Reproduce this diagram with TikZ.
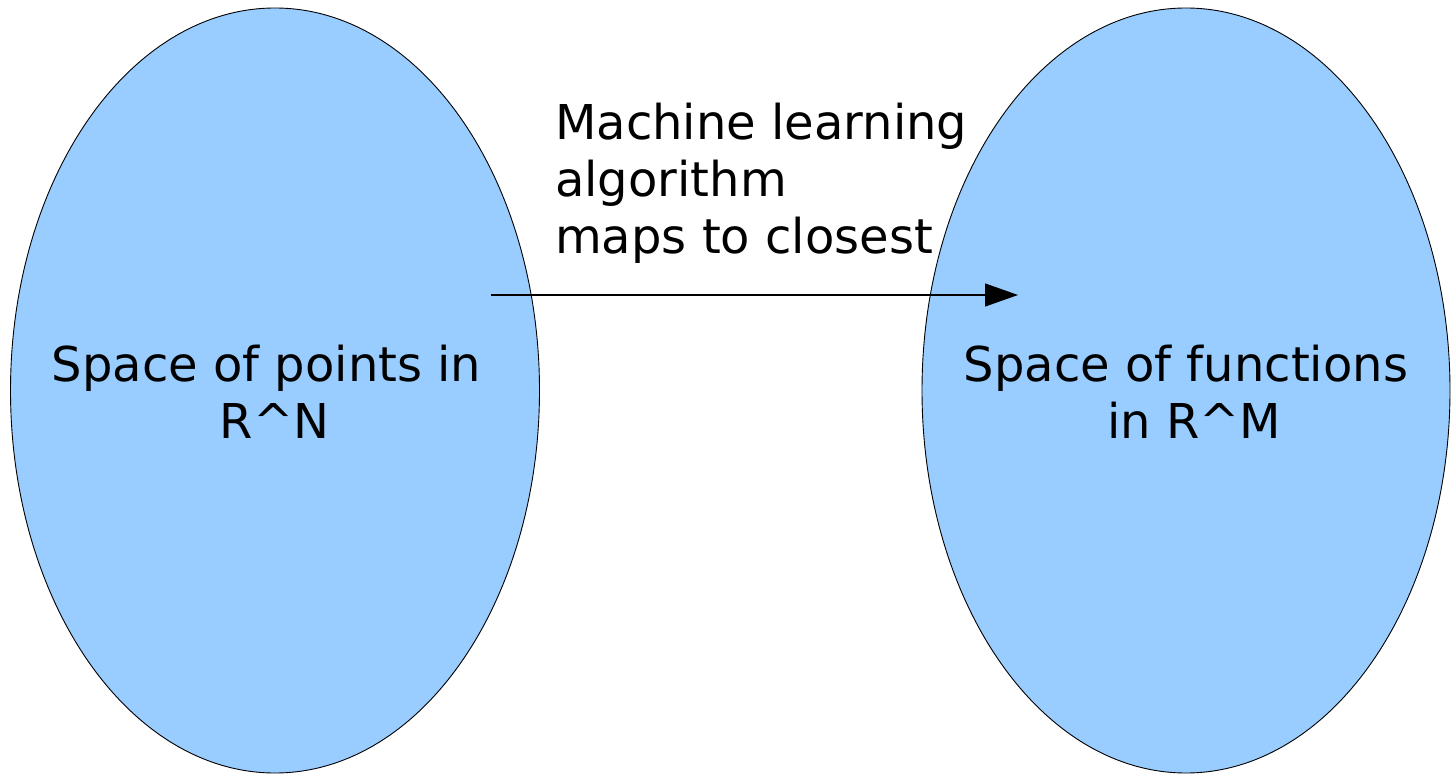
\documentclass[tikz,border=0pt]{standalone}
\usepackage{fontspec}
\setmainfont{DejaVu Sans}
\usetikzlibrary{arrows.meta,shapes.geometric}
\definecolor{blobfill}{HTML}{99CCFF}
\begin{document}
\begin{tikzpicture}[x=1pt,y=-1pt,
  blob/.style={ellipse,draw=black,line width=0.9pt,fill=blobfill,inner sep=0pt},
  lbl/.style={anchor=base,inner sep=0pt,font=\fontsize{48}{57}\selectfont},
  lblw/.style={anchor=base west,inner sep=0pt,font=\fontsize{48}{57}\selectfont},
  conn/.style={line width=1.1pt,-{Triangle[length=33pt,width=23pt]}}]
\useasboundingbox (0,0) rectangle (1451,775);
\node[blob,minimum width=529pt,minimum height=765pt] (left) at (275,390.5) {};
\node[blob,minimum width=528pt,minimum height=765pt] (right) at (1186,390.5) {};
\node[lbl] (l1) at (266.5,382) {Space of points in};
\node[lbl] (l2) at (274.5,438) {R\textasciicircum N};
\node[lbl] (r1) at (1186,382) {Space of functions};
\node[lbl] (r2) at (1194,438) {in R\textasciicircum M};
\node[lblw] (m1) at (555,140) {Machine learning};
\node[lblw] (m2) at (555,197) {algorithm};
\node[lblw] (m3) at (555,254) {maps to closest};
\coordinate (src) at (491,295);
\coordinate (dst) at (1018,295);
\draw[conn] (src) -- (dst);
\end{tikzpicture}
\end{document}
